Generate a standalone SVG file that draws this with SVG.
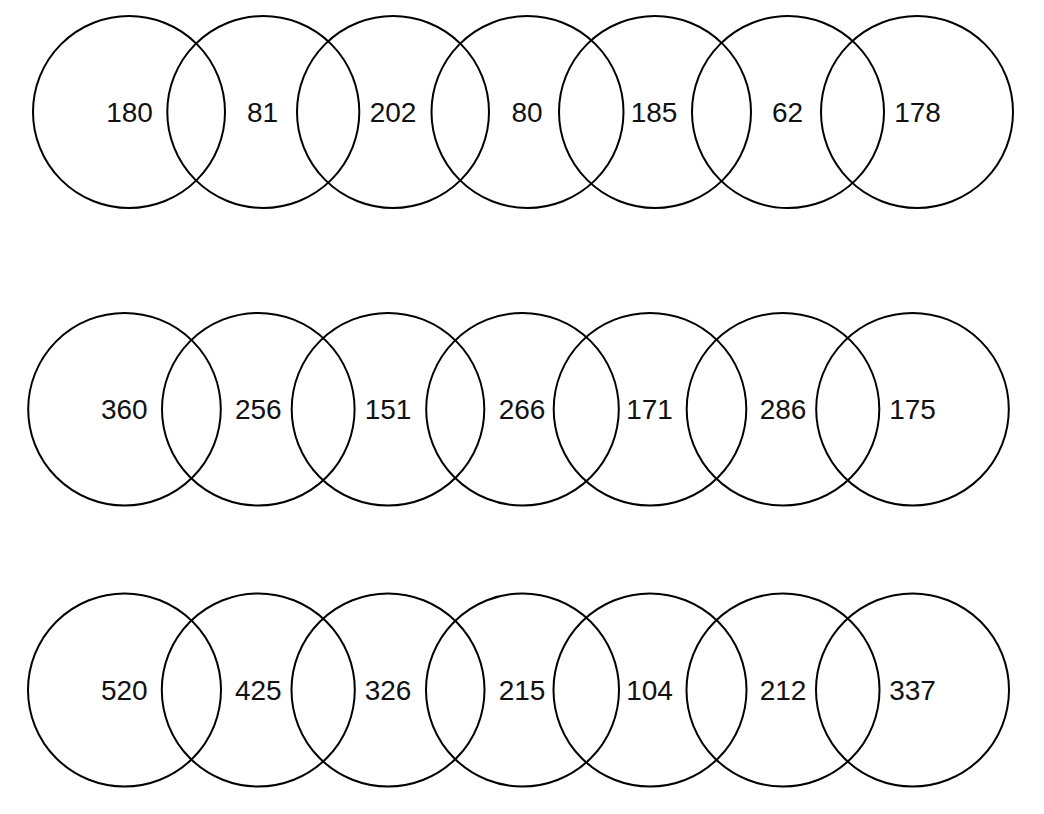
<svg xmlns="http://www.w3.org/2000/svg" width="1044" height="814" viewBox="0 0 1044 814">
<style>
.c{fill:none;stroke:#000;stroke-width:2}
.t{font-family:"Liberation Sans",Arial,sans-serif;font-size:28px;fill:#111;text-anchor:middle}
</style>
<rect width="1044" height="814" fill="#fff"/>
<g id="row1">
<g id="r1c1"><circle class="c" cx="129" cy="112" r="96"/><text class="t" x="129.5" y="121.7">180</text></g>
<g id="r1c2"><circle class="c" cx="263.3" cy="112" r="96"/><text class="t" x="262.5" y="121.7">81</text></g>
<g id="r1c3"><circle class="c" cx="393" cy="112" r="96"/><text class="t" x="393" y="121.7">202</text></g>
<g id="r1c4"><circle class="c" cx="527.5" cy="112" r="96"/><text class="t" x="527" y="121.7">80</text></g>
<g id="r1c5"><circle class="c" cx="655" cy="112" r="96"/><text class="t" x="654" y="121.7">185</text></g>
<g id="r1c6"><circle class="c" cx="788" cy="112" r="96"/><text class="t" x="787.5" y="121.7">62</text></g>
<g id="r1c7"><circle class="c" cx="917" cy="112" r="96"/><text class="t" x="917.5" y="121.7">178</text></g>
</g>
<g id="row2">
<g id="r2c1"><circle class="c" cx="124.5" cy="409.2" r="96.3"/><text class="t" x="124.3" y="418.7">360</text></g>
<g id="r2c2"><circle class="c" cx="258.3" cy="409.2" r="96.3"/><text class="t" x="258.3" y="418.7">256</text></g>
<g id="r2c3"><circle class="c" cx="388" cy="409.2" r="96.3"/><text class="t" x="388" y="418.7">151</text></g>
<g id="r2c4"><circle class="c" cx="522.5" cy="409.2" r="96.3"/><text class="t" x="522" y="418.7">266</text></g>
<g id="r2c5"><circle class="c" cx="650" cy="409.2" r="96.3"/><text class="t" x="649.5" y="418.7">171</text></g>
<g id="r2c6"><circle class="c" cx="783" cy="409.2" r="96.3"/><text class="t" x="783" y="418.7">286</text></g>
<g id="r2c7"><circle class="c" cx="912.5" cy="409.2" r="96.3"/><text class="t" x="912.5" y="418.7">175</text></g>
</g>
<g id="row3">
<g id="r3c1"><circle class="c" cx="124.5" cy="690" r="96.5"/><text class="t" x="124.3" y="699.5">520</text></g>
<g id="r3c2"><circle class="c" cx="258.3" cy="690" r="96.5"/><text class="t" x="258.3" y="699.5">425</text></g>
<g id="r3c3"><circle class="c" cx="388" cy="690" r="96.5"/><text class="t" x="388" y="699.5">326</text></g>
<g id="r3c4"><circle class="c" cx="522.5" cy="690" r="96.5"/><text class="t" x="522" y="699.5">215</text></g>
<g id="r3c5"><circle class="c" cx="650" cy="690" r="96.5"/><text class="t" x="649.5" y="699.5">104</text></g>
<g id="r3c6"><circle class="c" cx="783" cy="690" r="96.5"/><text class="t" x="783" y="699.5">212</text></g>
<g id="r3c7"><circle class="c" cx="912.5" cy="690" r="96.5"/><text class="t" x="912.5" y="699.5">337</text></g>
</g>
<g id="connectors"/>
</svg>
